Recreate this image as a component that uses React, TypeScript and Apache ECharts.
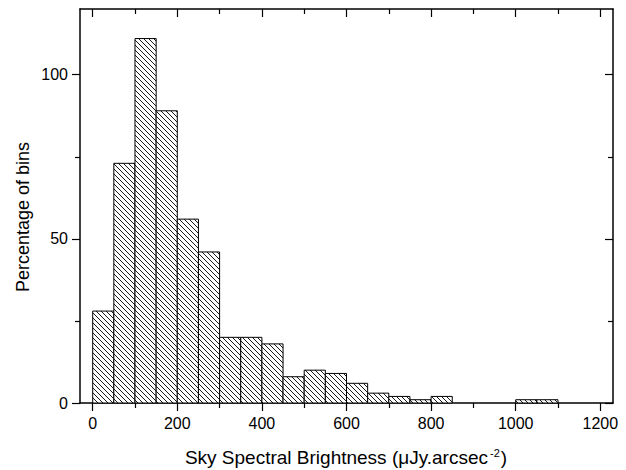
import React, { useEffect, useRef } from "react";
import * as echarts from "echarts";

// Histogram bins (start of each bin, width 50)
const binStarts = [0, 50, 100, 150, 200, 250, 300, 350, 400, 450, 500, 550, 600, 650, 700, 750, 800, 850, 900, 950, 1000, 1050];
const binWidth = 50;
const counts = [28, 73, 111, 89, 56, 46, 20, 20, 18, 8, 10, 9, 6, 3, 2, 1, 2, 0, 0, 0, 1, 1];

const xMajorTicks = [0, 200, 400, 600, 800, 1000, 1200];
const xMinorTicks = [100, 300, 500, 700, 900, 1100];
const yMajorTicks = [0, 50, 100];
const yMinorTicks = [25, 75];

const xTitle = "Sky Spectral Brightness (μJy.arcsec{sup|-2})";
const yTitle = "Percentage of bins";

const FONT = "'Liberation Sans', Arial, sans-serif";

export default function App() {
  const ref = useRef<HTMLDivElement>(null);

  useEffect(() => {
    if (!ref.current) return;
    const chart = echarts.init(ref.current, undefined, { renderer: "svg" });

    const lineStyle = { color: "#000", width: 1.5 };
    const tickStyle = { color: "#000", width: 1.2 };
    const XMIN = -30;
    const XMAX = 1230;
    const fmt = (v: number) => String(v);

    const mkX = (position: string, ticks: number[], len: number, inside: boolean, showLine: boolean, showLabel: boolean) => ({
      type: "value",
      min: XMIN,
      max: XMAX,
      position,
      axisLine: { show: showLine, onZero: false, lineStyle },
      axisTick: { show: true, inside, length: len, customValues: ticks, lineStyle: tickStyle },
      axisLabel: showLabel
        ? { show: true, customValues: ticks, fontSize: 16, color: "#000", fontFamily: FONT, margin: 12, formatter: fmt }
        : { show: false },
      splitLine: { show: false },
    });

    const mkY = (position: string, ticks: number[], len: number, inside: boolean, showLine: boolean, showLabel: boolean) => ({
      type: "value",
      min: 0,
      max: 120,
      position,
      axisLine: { show: showLine, onZero: false, lineStyle },
      axisTick: { show: true, inside, length: len, customValues: ticks, lineStyle: tickStyle },
      axisLabel: showLabel
        ? { show: true, customValues: ticks, fontSize: 16, color: "#000", fontFamily: FONT, margin: 12, formatter: fmt }
        : { show: false },
      splitLine: { show: false },
    });

    const data = binStarts.map((s, i) => [s, s + binWidth, counts[i]]);

    const option = {
      animation: false,
      backgroundColor: "#fff",
      grid: { left: 80, right: 13, top: 9, bottom: 67, containLabel: false, outerBoundsMode: "none" },
      xAxis: [
        mkX("bottom", xMajorTicks, 8, false, true, true),
        mkX("bottom", xMinorTicks, 5, false, false, false),
        mkX("top", xMajorTicks, 8, true, true, false),
        mkX("top", xMinorTicks, 5, true, false, false),
      ],
      yAxis: [
        mkY("left", yMajorTicks, 8, false, true, true),
        mkY("left", yMinorTicks, 5, false, false, false),
        mkY("right", yMajorTicks, 8, true, true, false),
        mkY("right", yMinorTicks, 5, true, false, false),
      ],
      series: [
        {
          type: "custom",
          xAxisIndex: 0,
          yAxisIndex: 0,
          encode: { x: [0, 1], y: 2 },
          data,
          renderItem: (params: any, api: any) => {
            const x0 = api.value(0);
            const x1 = api.value(1);
            const v = api.value(2);
            if (!v) return null;
            const tl = api.coord([x0, v]);
            const br = api.coord([x1, 0]);
            const xl = tl[0], xr = br[0], yt = tl[1], yb = br[1];
            const children: any[] = [
              {
                type: "rect",
                shape: { x: xl, y: yt, width: xr - xl, height: yb - yt },
                style: { fill: "#fff", stroke: null },
              },
            ];
            const step = 5;
            const cStart = Math.ceil((yt - xr) / step) * step;
            const cEnd = yb - xl;
            for (let c = cStart; c <= cEnd; c += step) {
              const xa = Math.max(xl, yt - c);
              const xb = Math.min(xr, yb - c);
              if (xb > xa) {
                children.push({
                  type: "line",
                  shape: { x1: xa, y1: xa + c, x2: xb, y2: xb + c },
                  style: { stroke: "#000", lineWidth: 0.9 },
                });
              }
            }
            children.push({
              type: "rect",
              shape: { x: xl, y: yt, width: xr - xl, height: yb - yt },
              style: { fill: null, stroke: "#000", lineWidth: 1 },
            });
            return { type: "group", children };
          },
        },
      ],
      graphic: [
        {
          type: "text",
          x: 346,
          y: 457,
          style: {
            text: xTitle,
            fontSize: 19,
            fontFamily: FONT,
            fill: "#000",
            textAlign: "center",
            textVerticalAlign: "middle",
            rich: {
              sup: { fontSize: 11, fontFamily: FONT, fill: "#000", verticalAlign: "top", lineHeight: 19, padding: [0, 1, 0, 2] },
            },
          },
        },
        {
          type: "text",
          x: 23,
          y: 217,
          rotation: Math.PI / 2,
          style: {
            text: yTitle,
            fontSize: 18,
            fontFamily: FONT,
            fill: "#000",
            textAlign: "center",
            textVerticalAlign: "middle",
          },
        },
      ],
    };

    chart.setOption(option as any);
    return () => chart.dispose();
  }, []);

  return (
    <div
      ref={ref}
      style={{ position: "absolute", left: 0, top: 0, width: 626, height: 470 }}
    />
  );
}
